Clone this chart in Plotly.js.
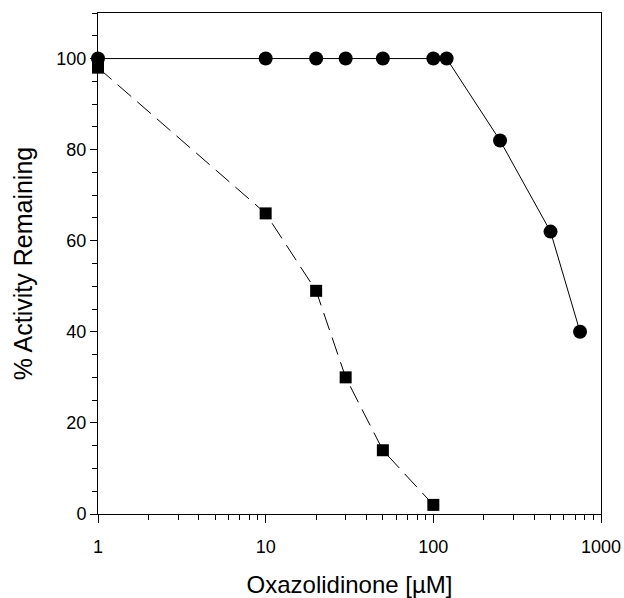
<!DOCTYPE html>
<html>
<head>
<meta charset="utf-8">
<script src="https://cdn.plot.ly/plotly-3.0.1.min.js"></script>
<style>html,body{margin:0;padding:0;background:#fff}#chart{width:624px;height:598px}</style>
</head>
<body>
<div id="chart"></div>
<script>
// Data
const circleX = [1, 10, 20, 30, 50, 100, 120, 250, 500, 750];
const circleY = [100, 100, 100, 100, 100, 100, 100, 82, 62, 40];
const squareX = [1, 10, 20, 30, 50, 100];
const squareY = [98, 66, 49, 30, 14, 2];
const xTickVals = [1, 10, 100, 1000];
const xTickText = ['1', '10', '100', '1000'];
const xMinorVals = [2,3,4,5,6,7,8,9,20,30,40,50,60,70,80,90,200,300,400,500,600,700,800,900];
const yTickVals = [0, 20, 40, 60, 80, 100];
const xTitle = 'Oxazolidinone [\u00b5M]';
const yTitle = '% Activity Remaining';

const FONT = 'Liberation Sans, Arial, Helvetica, sans-serif';

const traces = [
  {
    x: circleX, y: circleY, type: 'scatter', mode: 'lines+markers',
    line: {color: '#000', width: 1},
    marker: {symbol: 'circle', size: 14, color: '#000'},
    cliponaxis: false, showlegend: false
  },
  {
    x: squareX, y: squareY, type: 'scatter', mode: 'lines+markers',
    line: {color: '#000', width: 1, dash: '18px,8px'},
    marker: {symbol: 'square', size: 12, color: '#000'},
    cliponaxis: false, showlegend: false
  }
];

const layout = {
  width: 624, height: 598,
  margin: {l: 98, r: 23, t: 13, b: 84},
  paper_bgcolor: '#fff', plot_bgcolor: '#fff',
  font: {family: FONT, color: '#000', size: 18},
  xaxis: {
    type: 'log', range: [0, 3],
    tickmode: 'array', tickvals: xTickVals, ticktext: xTickText,
    ticks: 'outside', ticklen: 8, tickwidth: 1, tickcolor: '#000',
    ticklabelstandoff: 8,
    minor: {tickmode: 'array', tickvals: xMinorVals, ticks: 'outside', ticklen: 5, tickwidth: 1, tickcolor: '#000', showgrid: false},
    showline: true, linecolor: '#000', linewidth: 1, mirror: true,
    showgrid: false, zeroline: false,
    tickfont: {size: 18, family: FONT, color: '#000'},
    title: {text: xTitle, font: {size: 24, family: FONT, color: '#000'}, standoff: 22}
  },
  yaxis: {
    range: [0, 110],
    tickmode: 'array', tickvals: yTickVals,
    ticks: 'outside', ticklen: 7, tickwidth: 1, tickcolor: '#000',
    ticklabelstandoff: 0,
    minor: {dtick: 5, tick0: 0, ticks: 'outside', ticklen: 5, tickwidth: 1, tickcolor: '#000', showgrid: false},
    showline: true, linecolor: '#000', linewidth: 1, mirror: true,
    showgrid: false, zeroline: false,
    tickfont: {size: 18, family: FONT, color: '#000'},
    title: {text: yTitle, font: {size: 25, family: FONT, color: '#000'}, standoff: 16}
  }
};

Plotly.newPlot('chart', traces, layout, {displayModeBar: false, staticPlot: true});
</script>
</body>
</html>
